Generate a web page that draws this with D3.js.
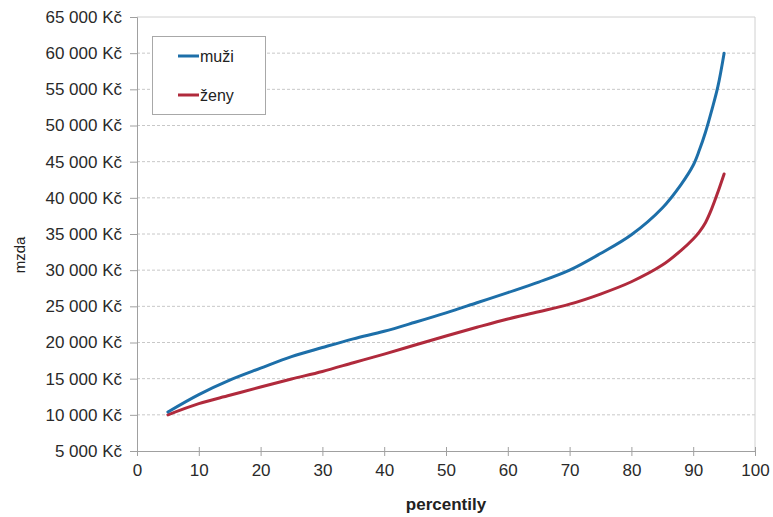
<!DOCTYPE html>
<html><head><meta charset="utf-8">
<script src="https://cdn.jsdelivr.net/npm/d3@7/dist/d3.min.js"></script>
<style>body{margin:0;background:#fff}svg{display:block}text{font-family:"Liberation Sans",Arial,sans-serif}</style>
</head><body>
<script>
const percentiles = [5,10,15,20,25,30,35,40,45,50,55,60,65,70,75,80,85,88,90,91,92,93,94,95];
const muzi = [10400,12800,14800,16450,18050,19300,20500,21550,22800,24100,25500,26900,28350,30000,32300,34900,38600,41800,44500,46600,49100,52100,55400,60000];
const zeny = [10000,11550,12700,13850,14950,16000,17200,18400,19650,20900,22100,23250,24250,25300,26700,28400,30700,32700,34300,35300,36600,38500,40800,43300];
const series = [{name:"muži", values:muzi, color:"#1d6fa9"},{name:"ženy", values:zeny, color:"#b02a3c"}];
const yTicks = [5000,10000,15000,20000,25000,30000,35000,40000,45000,50000,55000,60000,65000];
const xTicks = [0,10,20,30,40,50,60,70,80,90,100];

const W=773,H=517, L=137, R=755, T=17, B=451;
const svg=d3.select("body").append("svg").attr("width",W).attr("height",H);
const x=d3.scaleLinear().domain([0,100]).range([L,R]);
const y=d3.scaleLinear().domain([5000,65000]).range([B,T]);
const fmt=v=>d3.format(",")(v).replace(/,/g," ")+" Kč";

// gridlines
svg.append("g").selectAll("line").data(yTicks.filter(d=>d>5000&&d<65000)).join("line")
  .attr("x1",L).attr("x2",R).attr("y1",d=>y(d)).attr("y2",d=>y(d))
  .attr("stroke","#c8c8c8").attr("stroke-dasharray","3,2").attr("stroke-width",1);
// border right/top
svg.append("line").attr("x1",R).attr("x2",R).attr("y1",T).attr("y2",B).attr("stroke","#d0d0d0");
svg.append("line").attr("x1",L).attr("x2",R).attr("y1",T).attr("y2",T).attr("stroke","#d0d0d0");

const yAxis=svg.append("g").attr("transform",`translate(${L},0)`)
  .call(d3.axisLeft(y).tickValues(yTicks).tickFormat(fmt).tickSize(7).tickPadding(8));
const xAxis=svg.append("g").attr("transform",`translate(0,${B})`)
  .call(d3.axisBottom(x).tickValues(xTicks).tickSize(5).tickPadding(8));
[yAxis,xAxis].forEach(a=>{
  a.select(".domain").attr("stroke","#a0a0a0");
  a.selectAll(".tick line").attr("stroke","#a0a0a0");
  a.selectAll("text").attr("fill","#2a2a2a").style("font-size","17px");
});
xAxis.selectAll(".tick line").attr("y1",-4);

const line=d3.line().x((d,i)=>x(percentiles[i])).y(d=>y(d)).curve(d3.curveCatmullRom.alpha(0.5));
series.slice().reverse().forEach(s=>{
  svg.append("path").attr("d",line(s.values)).attr("fill","none")
    .attr("stroke",s.color).attr("stroke-width",3).attr("stroke-linecap","round");
});

// legend
const lg=svg.append("g");
lg.append("rect").attr("x",152.5).attr("y",36.5).attr("width",113).attr("height",78)
  .attr("fill","#fff").attr("stroke","#a8a8a8");
series.forEach((s,i)=>{
  const yy=56+i*39;
  lg.append("line").attr("x1",178).attr("x2",199).attr("y1",yy).attr("y2",yy)
    .attr("stroke",s.color).attr("stroke-width",3);
  lg.append("text").attr("x",200).attr("y",yy+6).text(s.name).style("font-size","16px").attr("fill","#222");
});

svg.append("text").attr("transform","translate(25,255) rotate(-90)").attr("text-anchor","middle")
  .style("font-size","15px").attr("fill","#222").text("mzda");
svg.append("text").attr("x",446).attr("y",510).attr("text-anchor","middle")
  .style("font-size","17px").style("font-weight","bold").attr("fill","#222").text("percentily");
</script>
</body></html>
